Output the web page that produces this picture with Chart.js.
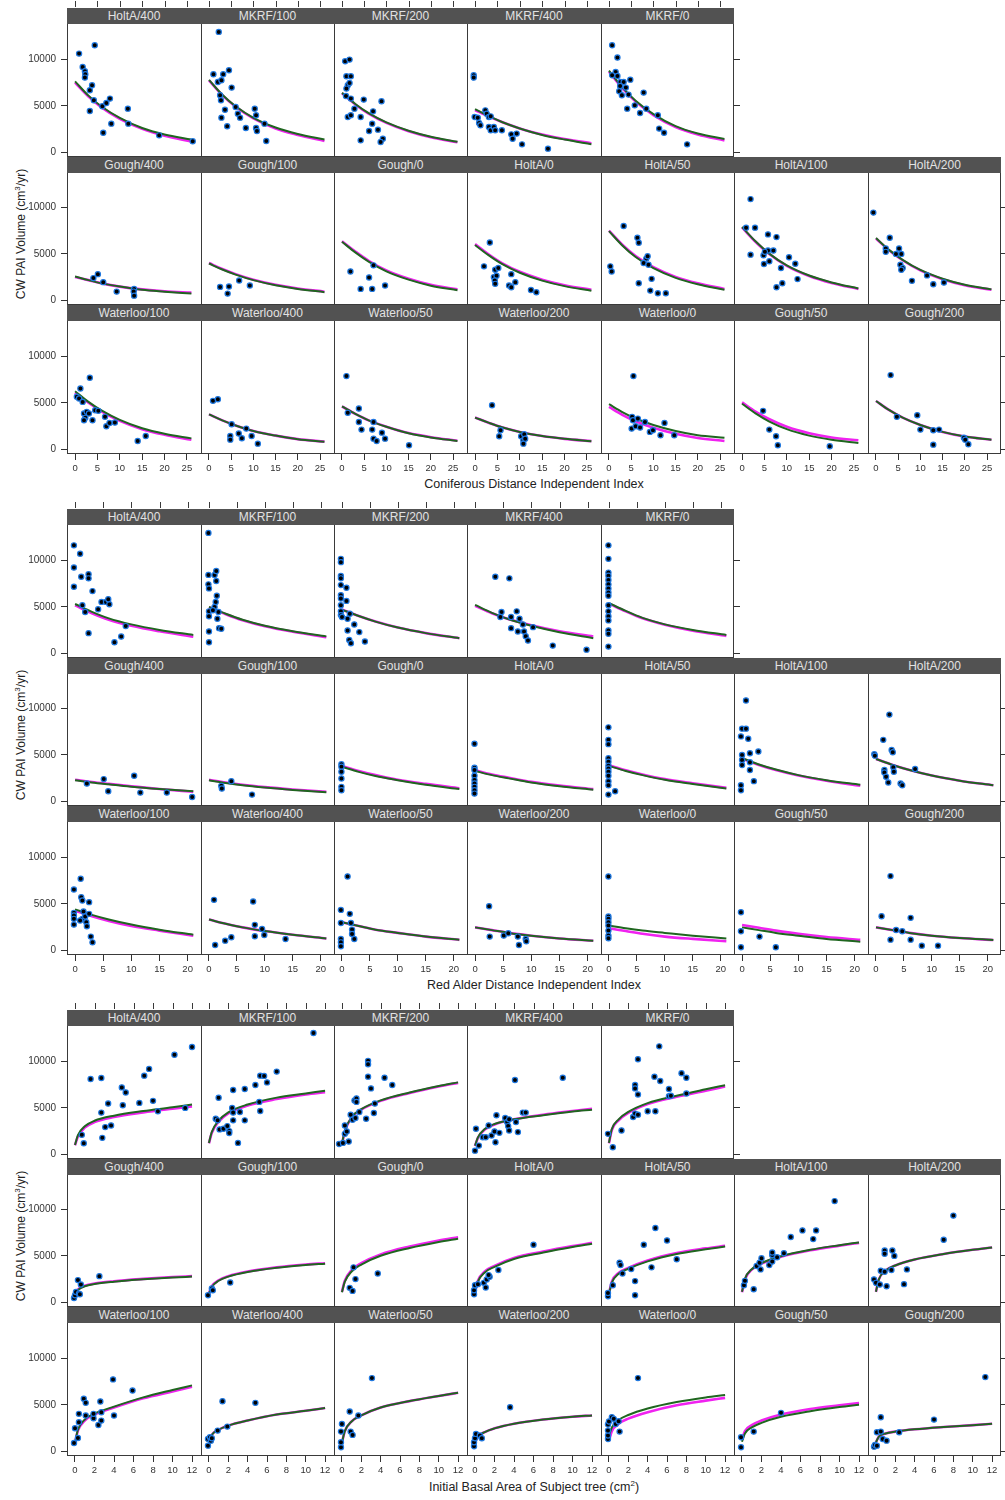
<!DOCTYPE html>
<html>
<head>
<meta charset="utf-8">
<script src="https://cdn.jsdelivr.net/npm/chart.js@4.4.0/dist/chart.umd.min.js"></script>
<style>
  body { margin: 0; background: #fff; width: 1005px; height: 1500px; position: relative; overflow: hidden;
         font-family: "Liberation Sans", Arial, sans-serif; }
  canvas { position: absolute; }
  .strip { position: absolute; height: 16px; background: #525252; color: #e2e2e2; font-size: 12px;
           line-height: 16px; text-align: center; white-space: nowrap; overflow: hidden; z-index: 2; }
  .xtitle { position: absolute; left: 67px; width: 934px; text-align: center; font-size: 12.5px; color: #222; }
  .ytitle { position: absolute; width: 220px; height: 16px; line-height: 16px; text-align: center; font-size: 12px;
            color: #222; transform: rotate(-90deg); white-space: nowrap; }
  .ytitle sup, .xtitle sup { font-size: 8px; }
</style>
</head>
<body>
<script>
// panel names, same order in the three blocks
const rowNames = [
  ["HoltA/400", "MKRF/100", "MKRF/200", "MKRF/400", "MKRF/0"],
  ["Gough/400", "Gough/100", "Gough/0", "HoltA/0", "HoltA/50", "HoltA/100", "HoltA/200"],
  ["Waterloo/100", "Waterloo/400", "Waterloo/50", "Waterloo/200", "Waterloo/0", "Gough/50", "Gough/200"]
];
const xTitles = [
  "Coniferous Distance Independent Index",
  "Red Alder Distance Independent Index",
  "Initial Basal Area of Subject tree (cm<sup>2</sup>)"
];
const yTitle = "CW PAI Volume (cm<sup>3</sup>/yr)";

const yTickVals = [0, 5000, 10000];
const conifTicks = [0, 5, 10, 15, 20, 25];
const alderTicks = [0, 5, 10, 15, 20];
const basalTicks = [0, 2, 4, 6, 8, 10, 12];

// x positions where the fitted curves were read
const conifCurveX = [0, 3, 6, 10, 15, 20, 26];
const alderCurveX = [0, 3, 6, 10, 15, 21];
const basalCurveX = [0, 0.3, 1, 2, 4, 7, 10, 12];

// ---- Coniferous distance independent index ----
const conifPts = [
  [[0.9,10650],[4.4,11550],[1.7,9200],[2.2,8740],[2.3,8410],[2.2,8050],[3.8,7220],[3.3,6680],[4.2,5600],[3.3,4440],[6.1,4950],[7.0,5310],[7.8,5780],[6.3,2090],[8.1,3070],[11.8,4690],[11.9,3070],[18.8,1800],[26.3,1160]],
  [[2.2,13000],[1.0,8410],[3.2,8410],[4.5,8840],[2.0,7580],[2.8,7760],[5.1,6970],[2.5,6140],[2.7,5600],[3.6,4580],[2.8,3720],[4.1,2780],[6.0,4870],[6.5,4150],[7.0,3720],[8.3,2600],[10.3,4690],[10.6,3970],[10.6,2600],[10.8,2270],[12.5,3070],[12.9,1190]],
  [[0.7,9820],[1.7,10000],[1.0,8200],[2.0,8200],[1.3,7220],[1.0,6860],[1.7,7470],[0.9,6060],[2.0,5780],[2.8,4690],[4.9,5670],[7.0,4400],[8.9,5490],[1.3,3790],[2.0,3970],[4.2,3790],[6.8,3070],[6.1,2270],[8.1,2420],[4.2,1260],[9.2,1440],[8.7,1080]],
  [[-0.3,8300],[-0.3,8050],[-0.1,3790],[0.6,3720],[0.9,3140],[1.2,2890],[2.3,4510],[2.6,4150],[3.1,3790],[3.5,3860],[3.1,2710],[3.5,2350],[4.2,2710],[4.5,2350],[6.0,2350],[8.1,1910],[8.4,1440],[9.3,1990],[10.5,830],[16.3,360]],
  [[0.7,11550],[1.9,10220],[1.5,8660],[0.7,8300],[1.9,8230],[2.6,7580],[3.3,7580],[4.8,7830],[2.5,7150],[3.8,6970],[2.3,6570],[2.9,6140],[4.4,6210],[7.8,6430],[4.1,4690],[5.8,5050],[7.0,4220],[8.4,4690],[11.0,3970],[11.3,2530],[12.4,2090],[17.6,830]],
  [[4.1,2370],[5.1,2800],[6.3,1930],[9.3,910],[13.2,1200],[13.1,910],[13.2,470]],
  [[2.5,1420],[4.5,1460],[4.2,690],[6.8,2110],[9.2,1570]],
  [[1.9,3090],[4.2,1200],[6.1,2440],[6.8,1200],[7.1,3750],[9.7,1570]],
  [[3.3,6220],[2.0,3640],[4.5,3280],[5.2,3460],[4.2,2480],[4.8,2620],[4.4,2110],[4.5,1750],[8.1,2800],[9.0,1930],[7.6,1570],[8.1,1380],[12.5,1090],[13.7,840]],
  [[3.3,8010],[0.3,3640],[0.6,3090],[6.4,6730],[6.7,6190],[8.4,4480],[8.7,4730],[7.8,4000],[8.9,3820],[6.7,1820],[9.6,2290],[9.3,1020],[11.0,730],[12.8,730]],
  [[1.9,10920],[0.9,7830],[2.9,7830],[1.9,4910],[5.8,7100],[7.7,6810],[4.8,4840],[5.8,5350],[5.1,5210],[4.9,3890],[6.1,4190],[7.0,5350],[8.7,3460],[10.5,4620],[11.9,3930],[7.7,1380],[9.0,1820],[12.4,2260]],
  [[-0.6,9460],[2.2,5570],[2.2,5210],[3.1,6730],[4.5,4990],[5.2,5570],[5.7,4990],[5.5,3820],[6.0,3460],[5.7,3280],[8.1,2070],[11.5,2660],[12.9,1710],[15.3,1890]],
  [[3.3,7710],[1.2,6550],[0.4,5650],[0.9,5470],[1.7,5100],[2.0,3840],[2.6,4020],[2.3,3370],[2.0,3110],[3.1,3840],[3.9,3110],[4.5,4200],[5.2,4130],[6.7,3480],[7.0,2460],[7.7,2820],[8.9,2860],[14.0,870],[15.8,1410]],
  [[0.9,5210],[2.0,5390],[5.1,2680],[4.8,1410],[4.8,1010],[6.7,1670],[7.4,1160],[8.4,2210],[9.6,1410],[11.0,580]],
  [[1.0,7890],[1.3,3910],[3.8,4380],[3.8,2930],[4.4,2100],[7.1,2930],[6.8,2100],[7.1,1120],[7.8,870],[9.0,1770],[9.7,1120],[15.1,400]],
  [[3.8,4740],[5.7,2030],[5.4,1380],[10.3,1380],[11.0,1590],[10.8,940],[10.8,580],[11.2,1120]],
  [[5.5,7890],[5.2,3480],[5.4,3110],[5.1,2210],[6.0,2460],[6.5,3290],[7.0,2320],[8.1,2930],[9.2,1850],[9.9,2030],[11.6,1480],[12.5,2820],[14.7,1480]],
  [[4.7,4130],[6.1,2100],[7.6,1380],[8.0,400],[19.6,290]],
  [[3.3,8000],[4.7,3480],[9.3,3660],[10.0,2100],[12.9,2030],[14.2,2100],[12.9,470],[19.8,1230],[20.1,1010],[20.8,510]]
];
const conifGreen = [
  [7650,6100,4900,3700,2600,1900,1350],
  [7800,6200,4950,3700,2650,1950,1350],
  [6400,5200,4200,3200,2300,1650,1100],
  [4650,3900,3250,2550,1850,1350,850],
  [8800,7000,5550,4100,2800,2000,1400],
  [2550,2150,1800,1450,1100,900,700],
  [3950,3300,2750,2150,1600,1200,850],
  [6300,5150,4150,3100,2200,1550,1050],
  [5950,4850,3900,2950,2100,1500,1000],
  [7450,5900,4650,3450,2400,1700,1100],
  [7900,6350,5050,3750,2650,1900,1250],
  [6700,5400,4350,3250,2300,1650,1150],
  [6250,5100,4150,3150,2250,1650,1150],
  [3750,3100,2550,1950,1450,1050,780],
  [4600,3800,3100,2400,1700,1250,870],
  [3400,2850,2350,1850,1400,1100,850],
  [4850,4000,3300,2600,1950,1500,1230],
  [4900,3850,3000,2150,1450,1000,650],
  [5200,4200,3400,2600,1850,1350,1000]
];
const conifMagenta = [
  [7500,6000,4800,3600,2500,1750,1150],
  [7750,6150,4900,3650,2550,1850,1200],
  [6350,5150,4150,3150,2250,1600,1050],
  [4550,3850,3250,2550,1900,1400,950],
  [8700,6900,5450,4000,2700,1900,1250],
  [2500,2150,1800,1450,1150,950,800],
  [4000,3350,2800,2200,1650,1250,900],
  [6350,5250,4250,3200,2300,1650,1150],
  [6050,4950,4000,3050,2200,1600,1100],
  [7500,5980,4750,3550,2500,1800,1200],
  [7850,6300,5000,3700,2600,1850,1200],
  [6650,5350,4300,3200,2250,1600,1100],
  [6100,5000,4050,3050,2150,1550,1000],
  [3750,3100,2550,1950,1450,1070,800],
  [4600,3800,3100,2420,1720,1280,900],
  [3400,2850,2350,1850,1400,1100,850],
  [4550,3700,3000,2300,1650,1200,870],
  [5050,4050,3250,2400,1700,1250,940],
  [5200,4200,3400,2600,1850,1350,1000]
];

// ---- Red alder distance independent index ----
const alderPts = [
  [[-0.2,11650],[-0.2,9250],[0.9,10740],[-0.2,7170],[1.1,8260],[2.4,8520],[2.4,8080],[3.1,6700],[1.3,5170],[1.8,4440],[2.4,2150],[4.1,4730],[4.7,5530],[5.5,5530],[6.1,5280],[5.9,5820],[7.0,1160],[8.2,1780],[9.0,2910]],
  [[-0.1,13000],[-0.1,8450],[-0.1,7430],[0,6990],[0,4510],[0,3970],[0,2330],[0,1160],[1.0,8450],[1.3,8880],[1.3,7790],[1.4,6190],[1.2,5530],[1.0,4990],[0.7,4620],[1.5,3710],[1.8,2690],[2.2,2620],[1.7,4440]],
  [[-0.2,10190],[-0.2,9830],[-0.2,8340],[-0.2,8080],[-0.2,7350],[0.8,7060],[-0.2,6260],[-0.2,5900],[0.8,5640],[-0.2,5170],[-0.2,4510],[-0.2,4080],[0,3900],[1.0,3710],[1.4,4260],[2.2,3090],[1.0,2440],[3.1,2260],[1.3,1420],[1.6,1060],[4.1,1240]],
  [[3.6,8260],[6.1,8080],[4.7,4440],[4.5,3900],[6.4,3900],[7.4,4510],[7.9,3710],[6.4,2690],[7.6,2330],[8.5,3090],[8.7,2330],[9.0,1820],[9.4,1350],[10.3,2800],[13.8,800],[19.8,360]],
  [[-0.1,11650],[-0.1,10190],[-0.1,8700],[-0.1,8370],[-0.1,7900],[-0.1,7430],[-0.1,6990],[-0.1,6550],[-0.1,6190],[-0.1,5170],[-0.1,4510],[-0.1,3970],[-0.1,3530],[-0.1,2440],[-0.1,2070],[-0.1,690]],
  [[2.1,1890],[5.1,2370],[5.9,1060],[10.5,2730],[11.6,910],[16.3,910],[20.8,440]],
  [[2.2,1640],[2.3,1350],[4.0,2150],[7.7,690]],
  [[-0.1,3970],[-0.1,3710],[-0.1,3170],[-0.1,2440],[-0.1,1530],[-0.1,1160]],
  [[-0.1,6190],[-0.1,3600],[-0.1,3350],[-0.1,2730],[-0.1,2260],[-0.1,1890],[-0.1,1530],[-0.1,1160],[-0.1,800]],
  [[-0.1,7970],[-0.1,6620],[-0.1,6150],[-0.1,4620],[-0.1,4260],[-0.1,3820],[-0.1,3530],[-0.1,3170],[-0.1,2730],[-0.1,2150],[-0.1,1710],[-0.1,690],[1.1,1060]],
  [[0.7,10880],[0,7830],[0.7,7830],[-0.2,6990],[1.1,6730],[0,4990],[0,4440],[0,3890],[1.4,4190],[1.4,5170],[2.9,5350],[1.4,3350],[2.1,2150],[-0.2,1710],[-0.2,1160]],
  [[-0.3,5060],[-0.2,4910],[2.4,9350],[1.3,6620],[2.8,5530],[3.0,5280],[1.5,3350],[1.5,3090],[1.8,2620],[2.2,2000],[3.1,3640],[3.2,3170],[4.4,1890],[4.7,1710],[7.0,3460]],
  [[-0.2,6550],[-0.2,4020],[-0.2,3730],[-0.2,3370],[-0.2,2750],[1.0,7710],[1.1,5720],[1.3,5360],[1.5,4160],[1.3,3370],[0.9,3190],[1.8,3620],[2.0,3000],[2.1,2570],[2.5,5180],[2.5,3910],[2.8,1450],[3.1,830]],
  [[0.9,5430],[1.1,540],[2.9,1010],[4.0,1380],[7.9,5250],[8.2,2720],[8.2,1480],[9.5,2280],[9.9,1630],[13.7,1190]],
  [[-0.2,4340],[-0.2,2930],[-0.2,1190],[-0.2,830],[-0.2,400],[1.0,7960],[1.4,3910],[1.6,2930],[1.8,2210],[1.8,1740],[2.2,1190]],
  [[2.5,4740],[2.6,1450],[5.1,1560],[5.9,1810],[7.6,1450],[7.8,540],[9.0,1190],[9.1,940]],
  [[-0.1,7960],[-0.1,3620],[-0.1,3370],[-0.1,3000],[-0.1,2640],[-0.1,2100],[-0.1,1560],[-0.1,1270]],
  [[-0.2,4090],[-0.2,2030],[-0.2,290],[3.1,1450],[6.0,290]],
  [[1.0,3660],[2.6,8000],[2.6,1120],[3.6,2170],[4.7,2030],[6.2,3480],[6.2,1120],[8.2,470],[11.1,470]]
];
const alderGreen = [
  [5300,4450,3750,3100,2500,1950],
  [5000,4250,3600,2950,2350,1800],
  [4700,4000,3400,2750,2150,1600],
  [5200,4350,3650,2950,2250,1600],
  [5400,4550,3800,3100,2500,1950],
  [2250,2000,1800,1550,1300,1050],
  [2250,1950,1700,1450,1200,950],
  [3700,3150,2700,2250,1750,1300],
  [3250,2800,2450,2000,1600,1220],
  [3800,3250,2800,2300,1850,1350],
  [4650,3950,3400,2800,2250,1750],
  [4550,3900,3350,2750,2200,1700],
  [4400,3800,3300,2750,2200,1650],
  [3300,2850,2450,2050,1650,1250],
  [3000,2600,2200,1850,1450,1100],
  [2450,2150,1850,1550,1250,1000],
  [2650,2350,2100,1850,1550,1250],
  [2450,2150,1850,1550,1200,900],
  [2450,2150,1850,1550,1300,1080]
];
const alderMagenta = [
  [5150,4300,3600,2950,2350,1750],
  [4950,4200,3550,2900,2300,1700],
  [4700,4000,3400,2750,2150,1600],
  [5100,4300,3650,3000,2350,1780],
  [5350,4500,3750,3050,2400,1850],
  [2300,2050,1850,1600,1300,1000],
  [2300,2000,1750,1500,1250,1000],
  [3800,3250,2800,2300,1850,1380],
  [3320,2870,2520,2070,1670,1290],
  [3870,3320,2870,2370,1920,1420],
  [4600,3900,3350,2750,2200,1650],
  [4550,3900,3350,2750,2200,1700],
  [4250,3650,3150,2600,2100,1550],
  [3300,2850,2450,2050,1650,1250],
  [3000,2600,2200,1850,1450,1100],
  [2450,2150,1850,1550,1250,1000],
  [2350,2050,1750,1450,1200,950],
  [2700,2400,2100,1750,1400,1100],
  [2450,2150,1850,1550,1300,1080]
];

// ---- Initial basal area of subject tree ----
const basalPts = [
  [[0.7,2070],[0.9,1160],[1.6,8120],[2.7,8230],[2.7,4480],[2.8,1750],[3.1,2910],[3.4,5460],[3.7,3090],[4.8,7210],[4.9,5280],[5.2,6660],[6.6,5530],[7.1,8480],[7.6,9210],[8.0,5750],[8.5,4620],[10.2,10740],[11.3,4990],[12.0,11580]],
  [[1.0,6080],[0.7,3820],[0.9,3640],[1.1,2660],[1.5,2730],[1.9,3020],[2.1,2480],[2.1,2260],[2.4,4990],[2.5,4480],[2.5,3640],[3.0,1200],[3.2,4550],[3.7,3640],[2.5,6920],[3.7,7030],[4.8,7460],[5.3,8480],[5.7,8450],[5.3,4660],[5.2,5640],[6.0,7750],[7.0,8920],[10.8,13100]],
  [[-0.3,1090],[0.1,1200],[0.7,1350],[0.3,2180],[0.5,2440],[0.3,3090],[0.9,4260],[1.1,3710],[1.4,3890],[1.3,5790],[1.5,6010],[1.5,5640],[1.8,4550],[2.5,3820],[2.7,10080],[2.7,9720],[2.7,8370],[3.0,7100],[3.3,4440],[3.4,5460],[4.4,8260],[5.2,7460]],
  [[0.1,2730],[0,360],[0.4,910],[0.8,1820],[1.1,1820],[1.4,3090],[1.7,2000],[2.0,2440],[2.1,1270],[2.2,4190],[2.5,2290],[3.1,3890],[3.3,3460],[3.4,3020],[3.5,2550],[3.5,3750],[4.1,8010],[4.2,3460],[4.4,2370],[4.9,4480],[5.2,4480],[9.0,8260]],
  [[-0.1,2180],[0.4,730],[1.3,2550],[2.7,7460],[2.7,7100],[3.0,10260],[3.0,6440],[2.5,4000],[2.7,4370],[3.0,4260],[4.0,4620],[4.8,4620],[4.7,8370],[5.2,11650],[5.3,7900],[6.2,7030],[6.2,6260],[6.4,6300],[7.5,8740],[8.0,8260],[8.0,6550]],
  [[-0.1,440],[0,730],[0.1,1090],[0.4,910],[0.3,2370],[0.6,1890],[0.5,840],[2.5,2800]],
  [[-0.1,730],[0.3,1460],[0.4,1270],[2.2,2110]],
  [[0.8,1530],[1.1,1200],[1.2,3750],[1.4,2480],[3.7,3090]],
  [[-0.1,840],[-0.1,1270],[0,1820],[0.3,1930],[0.9,2070],[1.1,1570],[1.2,2440],[1.5,2730],[1.4,2910],[2.4,3460],[6.0,6190]],
  [[-0.1,620],[-0.1,980],[0.4,1820],[1.1,4260],[1.2,4000],[1.4,3090],[2.3,3570],[2.7,2260],[2.7,730],[3.6,6190],[4.4,3750],[4.8,8010],[6.0,6660],[7.0,4620]],
  [[0.2,1820],[0.3,2290],[1.2,1380],[1.5,3890],[1.8,4260],[1.9,3530],[2.0,4730],[2.8,4000],[3.1,4370],[3.1,5100],[3.1,5350],[3.6,4840],[4.3,5280],[5.0,7030],[6.2,7750],[7.3,6810],[7.6,7750],[9.5,10920]],
  [[-0.2,2440],[0,2070],[0.5,3390],[0.4,1890],[1.1,1710],[0.9,5570],[0.9,5210],[1.7,5570],[1.9,4990],[0.9,3280],[1.6,3460],[2.9,1930],[3.2,3530],[7.0,6730],[8.0,9350]],
  [[-0.1,870],[0,2460],[0.3,1410],[0.4,3110],[0.4,4020],[0.9,5650],[1.1,5210],[1.1,3840],[1.9,3550],[1.9,4020],[2.4,2820],[2.6,5360],[2.7,3290],[2.7,4200],[3.9,7750],[4.0,3840],[5.9,6550]],
  [[-0.1,580],[-0.1,1300],[0.1,1480],[0.2,1120],[0.3,1380],[0.9,2210],[1.4,5390],[1.9,2640],[4.8,5210]],
  [[-0.1,400],[-0.1,940],[-0.1,2100],[0,2930],[0.8,4270],[0.9,2100],[1.1,1740],[1.7,3840],[3.1,7890]],
  [[-0.1,510],[-0.1,940],[0,1380],[0.1,1850],[0.5,1670],[0.7,1380],[3.6,4740]],
  [[-0.1,1300],[-0.1,1670],[-0.1,2210],[-0.1,2860],[0,3190],[0.3,3660],[0.5,3480],[0.7,2930],[1.1,2100],[1.0,3220],[3.0,7890]],
  [[-0.1,400],[-0.1,1480],[1.2,2100],[4.0,4130]],
  [[-0.2,470],[-0.1,650],[0.1,580],[0.1,2030],[0.5,3660],[0.5,2100],[0.7,1300],[1.1,1120],[2.4,2030],[6.0,3400],[11.3,8000]]
];
const basalGreen = [
  [980,2050,3000,3600,4150,4650,5050,5350],
  [1200,2400,3600,4500,5350,6100,6550,6850],
  [1100,2500,4000,4850,5800,6650,7350,7750],
  [900,1800,2700,3250,3750,4200,4600,4800],
  [1200,2700,3750,4550,5500,6300,7000,7450],
  [900,1300,1700,1950,2200,2450,2650,2750],
  [900,1650,2300,2750,3250,3700,4000,4150],
  [1050,2200,3300,4050,5000,5850,6500,6850],
  [1000,2200,3200,3800,4650,5350,5950,6300],
  [850,2100,3050,3600,4400,5200,5700,6000],
  [1100,2500,3550,4200,4950,5650,6150,6450],
  [1100,2450,3400,3950,4600,5200,5650,5900],
  [900,2300,3400,4050,4800,5800,6600,7100],
  [950,1750,2300,2750,3300,3950,4350,4650],
  [900,2150,3200,3850,4700,5400,5950,6300],
  [1000,1550,2050,2450,2950,3400,3700,3850],
  [1600,2550,3350,3900,4600,5300,5800,6050],
  [1000,1900,2550,3050,3700,4300,4750,5000],
  [950,1550,1900,2100,2350,2600,2800,2950]
];
const basalMagenta = [
  [950,1900,2850,3450,4000,4500,4900,5150],
  [1150,2300,3500,4400,5250,5950,6450,6700],
  [1050,2450,3950,4800,5750,6600,7300,7700],
  [850,1750,2650,3200,3750,4250,4650,4900],
  [1150,2600,3650,4450,5400,6200,6850,7300],
  [950,1350,1750,2000,2250,2500,2700,2800],
  [950,1700,2350,2800,3300,3750,4050,4200],
  [1100,2300,3450,4200,5150,6000,6650,7000],
  [1050,2300,3300,3900,4750,5450,6050,6400],
  [900,2200,3150,3700,4500,5300,5800,6080],
  [1050,2450,3500,4150,4900,5600,6100,6400],
  [1100,2450,3400,3950,4600,5200,5650,5900],
  [850,2200,3300,3950,4700,5700,6450,6950],
  [950,1750,2300,2750,3300,3950,4350,4650],
  [900,2150,3200,3850,4700,5400,5950,6300],
  [1000,1550,2050,2450,2950,3400,3700,3850],
  [1100,2150,2950,3500,4200,4950,5450,5750],
  [1200,2150,2800,3300,3950,4550,4950,5200],
  [950,1550,1900,2100,2350,2600,2800,2950]
];

// one entry per block of panels (x range)
const blocks = [
  { pts: conifPts, green: conifGreen, magenta: conifMagenta, curveX: conifCurveX, ticks: conifTicks, xmin: -1.8, xmax: 28.15 },
  { pts: alderPts, green: alderGreen, magenta: alderMagenta, curveX: alderCurveX, ticks: alderTicks, xmin: -1.43, xmax: 22.37 },
  { pts: basalPts, green: basalGreen, magenta: basalMagenta, curveX: basalCurveX, ticks: basalTicks, xmin: -0.82, xmax: 12.92 }
];

const colLeft = [67, 201, 334, 467, 601, 734, 868, 1001];
const PX_PER_UNIT = 92.4 / 10000;

Chart.defaults.font.family = '"Liberation Sans", Arial, sans-serif';

// panel frame + the small tick marks above the top strips
const framePlugin = {
  id: "frame",
  afterDraw(chart, args, opts) {
    const ctx = chart.ctx;
    const a = chart.chartArea;
    ctx.save();
    ctx.strokeStyle = "#3a3a3a";
    ctx.lineWidth = 1;
    ctx.beginPath();
    ctx.moveTo(a.left + 0.5, a.top);
    ctx.lineTo(a.left + 0.5, a.bottom);
    if (opts.last) {
      ctx.moveTo(a.right - 0.5, a.top);
      ctx.lineTo(a.right - 0.5, a.bottom);
    }
    ctx.moveTo(a.left, a.bottom - 0.5);
    ctx.lineTo(a.right, a.bottom - 0.5);
    if (opts.topTicks) {
      const xs = chart.scales.x;
      opts.topTicks.forEach(v => {
        const px = Math.round(xs.getPixelForValue(v)) + 0.5;
        ctx.moveTo(px, a.top - 23);
        ctx.lineTo(px, a.top - 17);
      });
    }
    ctx.stroke();
    ctx.restore();
  }
};

function fixTicks(vals) {
  return s => { s.ticks = vals.map(v => ({ value: v })); };
}
// pin an axis box to a fixed size, with no label overflow padding
function fixBox(dim, size) {
  return s => {
    s[dim] = size;
    s.paddingTop = 0; s.paddingBottom = 0; s.paddingLeft = 0; s.paddingRight = 0;
  };
}
const tickGrid = { display: true, drawOnChartArea: false, drawTicks: true, tickLength: 6, color: "#333" };

function addDiv(cls, html, css) {
  const d = document.createElement("div");
  d.className = cls;
  d.innerHTML = html;
  Object.assign(d.style, css);
  document.body.appendChild(d);
  return d;
}

blocks.forEach((b, gi) => {
  const gTop = 8 + 501 * gi;
  let k = 0;

  addDiv("ytitle", yTitle, { left: (18 - 110) + "px", top: (gTop + 226 - 8) + "px" });
  addDiv("xtitle", xTitles[gi], { top: (gTop + 469) + "px" });

  rowNames.forEach((names, r) => {
    const stripTop = Math.round(gTop + 148.5 * r);
    const plotTop = stripTop + 16;
    const plotBot = Math.round(gTop + 148.5 * (r + 1));
    const h = plotBot - plotTop;
    const ymin = -5 / PX_PER_UNIT;
    const ymax = ymin + h / PX_PER_UNIT;

    names.forEach((name, c) => {
      const idx = k++;
      const left = colLeft[c], right = colLeft[c + 1];
      const last = c === names.length - 1;
      const padL = c === 0 ? left : 0;
      const padR = last ? 8 : 0;
      const padT = r === 0 ? 24 : 16;
      const padB = r === 2 ? 26 : 0;

      const cv = document.createElement("canvas");
      cv.width = right - left + padL + padR;
      cv.height = h + padT + padB;
      cv.style.left = (left - padL) + "px";
      cv.style.top = (plotTop - padT) + "px";
      document.body.appendChild(cv);

      addDiv("strip", name, { left: left + "px", top: stripTop + "px", width: (right - left) + "px" });

      const green = b.curveX.map((x, i) => ({ x: x, y: b.green[idx][i] }));
      const magenta = b.curveX.map((x, i) => ({ x: x, y: b.magenta[idx][i] }));
      const pts = b.pts[idx].map(p => ({ x: p[0], y: p[1] }));

      new Chart(cv, {
        type: "scatter",
        data: {
          datasets: [
            { data: pts, backgroundColor: "#000", borderColor: "#1f78e0", borderWidth: 1.2, pointRadius: 2.6 },
            { data: green, showLine: true, borderColor: "#1f661f", borderWidth: 2, pointRadius: 0,
              cubicInterpolationMode: "monotone", fill: false },
            { data: magenta, showLine: true, borderColor: "#f022f0", borderWidth: 2.6, pointRadius: 0,
              cubicInterpolationMode: "monotone", fill: false }
          ]
        },
        options: {
          responsive: false,
          animation: false,
          devicePixelRatio: 1,
          layout: { autoPadding: false, padding: { top: padT, left: 0, right: 0, bottom: 0 } },
          plugins: {
            legend: { display: false },
            tooltip: { enabled: false },
            frame: { last: last, topTicks: r === 0 ? b.ticks : null }
          },
          scales: {
            x: {
              type: "linear", min: b.xmin, max: b.xmax, position: "bottom", display: r === 2,
              grid: tickGrid, border: { display: false },
              ticks: { font: { size: 9.5 }, color: "#333", padding: 3, maxRotation: 0, autoSkip: false,
                       callback: v => String(v) },
              afterBuildTicks: fixTicks(b.ticks),
              afterFit: fixBox("height", padB)
            },
            y: {
              type: "linear", min: ymin, max: ymax, position: "left", display: c === 0,
              grid: tickGrid, border: { display: false },
              ticks: { font: { size: 10 }, color: "#333", padding: 5, callback: v => String(v) },
              afterBuildTicks: fixTicks(yTickVals),
              afterFit: fixBox("width", padL)
            },
            y2: {
              type: "linear", min: ymin, max: ymax, position: "right", display: last,
              grid: tickGrid, border: { display: false },
              ticks: { display: false },
              afterBuildTicks: fixTicks(yTickVals),
              afterFit: fixBox("width", padR)
            }
          }
        },
        plugins: [framePlugin]
      });
    });
  });
});
</script>
</body>
</html>
